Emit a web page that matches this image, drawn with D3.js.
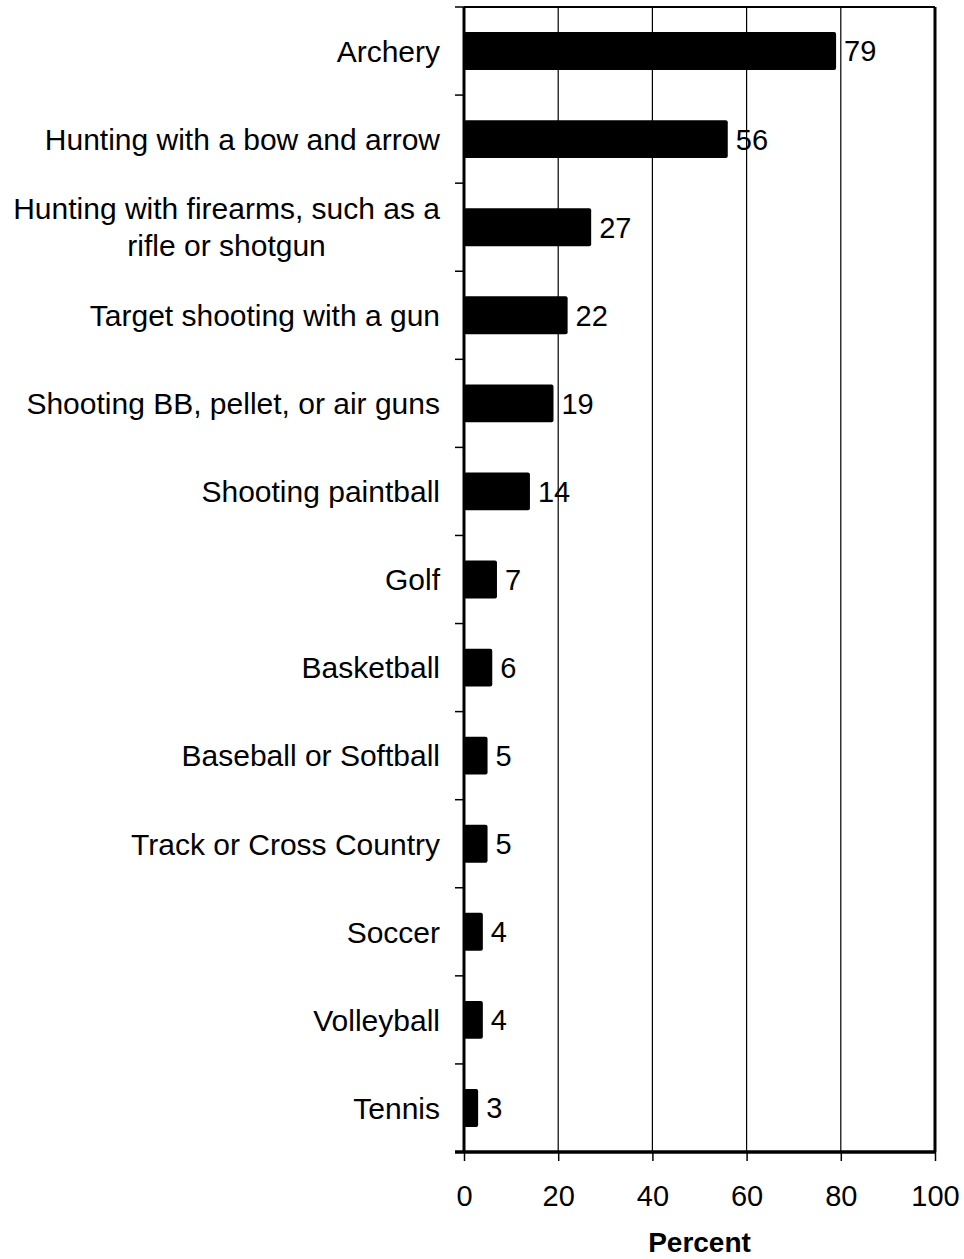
<!DOCTYPE html>
<html>
<head>
<meta charset="utf-8">
<script src="https://cdn.jsdelivr.net/npm/d3@7"></script>
<style>
  body { margin: 0; background: #fff; }
  text { font-family: "Liberation Sans", Arial, sans-serif; fill: #000; }
</style>
</head>
<body>
<svg width="964" height="1259"></svg>
<script>
var categories = [
    "Archery",
    "Hunting with a bow and arrow",
    "Hunting with firearms, such as a|rifle or shotgun",
    "Target shooting with a gun",
    "Shooting BB, pellet, or air guns",
    "Shooting paintball",
    "Golf",
    "Basketball",
    "Baseball or Softball",
    "Track or Cross Country",
    "Soccer",
    "Volleyball",
    "Tennis"
];
var values = [79, 56, 27, 22, 19, 14, 7, 6, 5, 5, 4, 4, 3];
var xTicks = [0, 20, 40, 60, 80, 100];
var xTitle = "Percent";

var svg = d3.select("svg");
var margin = {top: 7, right: 29, bottom: 107, left: 464};
var width = 964 - margin.left - margin.right;
var height = 1259 - margin.top - margin.bottom;

var g = svg.append("g")
    .attr("transform", "translate(" + margin.left + "," + margin.top + ")");

var x = d3.scaleLinear().domain([0, 100]).range([0, width]);
var y = d3.scaleBand().domain(d3.range(categories.length)).range([0, height]);
var barH = y.bandwidth() * 0.43;

// gridlines
g.append("g")
    .selectAll("line")
    .data(xTicks.slice(1, -1))
    .enter()
    .append("line")
    .attr("x1", d => x(d)).attr("x2", d => x(d))
    .attr("y1", 0).attr("y2", height)
    .attr("stroke", "#000")
    .attr("stroke-width", 1.2);

// top border and right border
g.append("line")
    .attr("x1", 0).attr("x2", width).attr("y1", 0).attr("y2", 0)
    .attr("stroke", "#000").attr("stroke-width", 2);
g.append("line")
    .attr("x1", width).attr("x2", width).attr("y1", 0).attr("y2", height)
    .attr("stroke", "#000").attr("stroke-width", 3);

// bars
g.append("g")
    .selectAll("rect")
    .data(values)
    .enter()
    .append("rect")
    .attr("x", 0)
    .attr("y", (d, i) => y(i) + (y.bandwidth() - barH) / 2)
    .attr("width", d => x(d))
    .attr("height", barH)
    .attr("rx", 2)
    .attr("fill", "#000");

// value labels
g.append("g")
    .selectAll("text")
    .data(values)
    .enter()
    .append("text")
    .attr("x", d => x(d) + 8)
    .attr("y", (d, i) => y(i) + y.bandwidth() / 2)
    .attr("dy", "0.36em")
    .style("font-size", "29px")
    .text(d => d);

// left axis line + ticks at band boundaries
g.append("line")
    .attr("x1", 0).attr("x2", 0).attr("y1", 0).attr("y2", height)
    .attr("stroke", "#000").attr("stroke-width", 3);
g.append("g")
    .selectAll("line")
    .data(d3.range(categories.length + 1))
    .enter()
    .append("line")
    .attr("x1", -9).attr("x2", 0)
    .attr("y1", d => d * y.step()).attr("y2", d => d * y.step())
    .attr("stroke", "#000").attr("stroke-width", 1.5);

// category labels
var labels = g.append("g")
    .selectAll("text")
    .data(categories)
    .enter()
    .append("text")
    .attr("y", (d, i) => y(i) + y.bandwidth() / 2)
    .attr("dy", "0.36em")
    .attr("x", -24)
    .attr("text-anchor", "end")
    .style("font-size", "30px");

labels.each(function (d) {
    var t = d3.select(this);
    var parts = d.split("|");
    if (parts.length == 1) {
        t.text(d);
        return;
    }
    // wrapped label: lines centred on the first line
    var first = t.append("tspan").text(parts[0]);
    var w = first.node().getComputedTextLength();
    var cx = -24 - w / 2;
    var cy = +t.attr("y");
    t.attr("text-anchor", "middle").attr("dy", null).text(null);
    parts.forEach(function (p, k) {
        t.append("tspan")
            .attr("x", cx)
            .attr("y", cy + (k - 0.5) * 37 + 10)
            .text(p);
    });
});

// bottom axis
var xAxis = d3.axisBottom(x)
    .tickValues(xTicks)
    .tickSize(9)
    .tickPadding(24);
var ax = g.append("g")
    .attr("transform", "translate(0," + height + ")")
    .call(xAxis);
ax.select(".domain").attr("stroke-width", 3.5).attr("d", "M-9,0H" + width);
ax.selectAll(".tick line").attr("stroke-width", 1.5);
ax.selectAll("text")
    .style("font-family", "'Liberation Sans', Arial, sans-serif")
    .style("font-size", "29px");

g.append("text")
    .attr("x", width / 2)
    .attr("y", height + 100)
    .attr("text-anchor", "middle")
    .style("font-size", "28px")
    .style("font-weight", "bold")
    .text(xTitle);
</script>
</body>
</html>
